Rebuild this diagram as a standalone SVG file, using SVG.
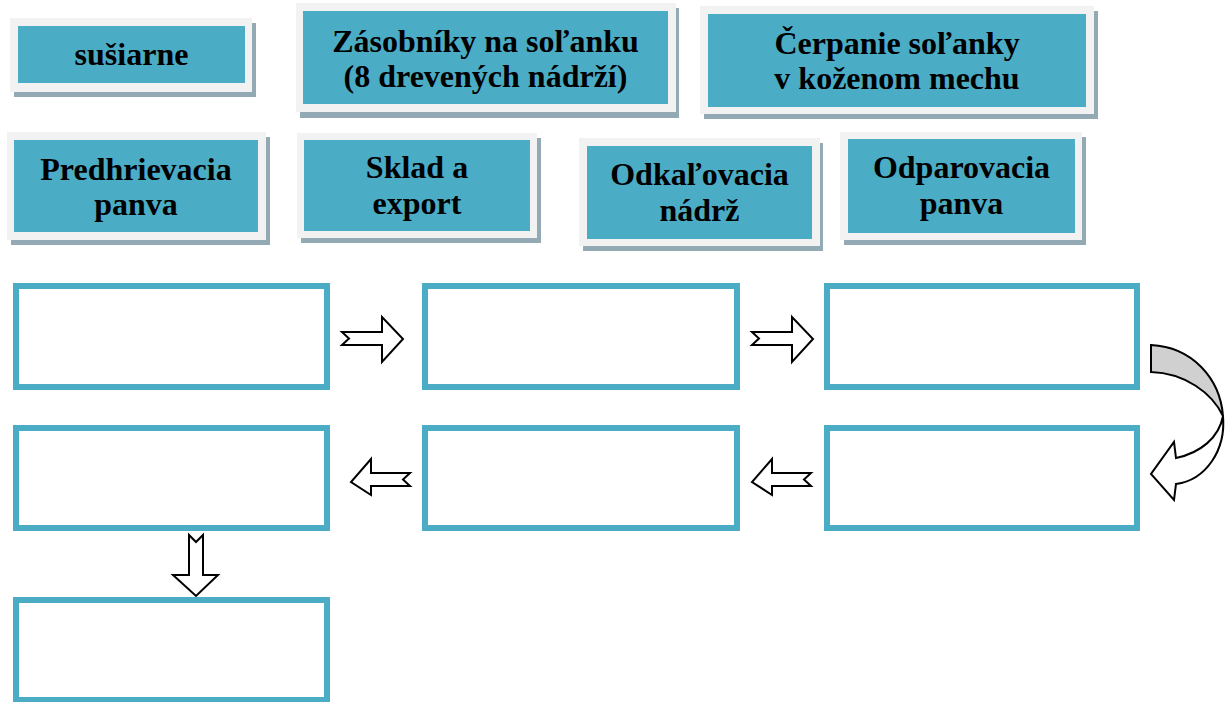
<svg xmlns="http://www.w3.org/2000/svg" width="1227" height="702" viewBox="0 0 1227 702">
<style>
.sh{fill:#93aab4}
.fr{fill:#f2f2f2}
.tl{fill:#4bacc6}
.lb{font-family:"Liberation Serif","Times New Roman",serif;font-weight:bold;font-size:32px;fill:#000;text-anchor:middle}
.bx{fill:#fff;stroke:#4bacc6;stroke-width:6}
.ar{fill:#fff;stroke:#000;stroke-width:2;stroke-linejoin:miter}
</style>
<rect width="1227" height="702" fill="#fff"/>
<g id="label-susiarne">
<rect class="sh" x="14" y="23" width="242" height="74"/>
<rect class="fr" x="10" y="18" width="242" height="74"/>
<rect class="tl" x="18" y="26" width="227" height="57"/>
<text class="lb" x="131.5" y="65">sušiarne</text>
</g>
<g id="label-zasobniky">
<rect class="sh" x="300" y="8" width="379" height="110"/>
<rect class="fr" x="296" y="3" width="380" height="109"/>
<rect class="tl" x="303" y="11" width="365" height="93"/>
<text class="lb" x="485.5" y="52">Zásobníky na soľanku</text>
<text class="lb" x="485.5" y="87">(8 drevených nádrží)</text>
</g>
<g id="label-cerpanie">
<rect class="sh" x="704" y="11" width="394" height="108"/>
<rect class="fr" x="700" y="6" width="394" height="108"/>
<rect class="tl" x="708" y="14" width="378" height="93"/>
<text class="lb" x="897" y="54">Čerpanie soľanky</text>
<text class="lb" x="897" y="89">v koženom mechu</text>
</g>
<g id="label-predhrievacia">
<rect class="sh" x="11" y="137" width="259" height="108"/>
<rect class="fr" x="7" y="132" width="259" height="108"/>
<rect class="tl" x="14" y="140" width="244" height="92"/>
<text class="lb" x="136" y="180">Predhrievacia</text>
<text class="lb" x="136" y="215">panva</text>
</g>
<g id="label-sklad">
<rect class="sh" x="301" y="138" width="240" height="105"/>
<rect class="fr" x="297" y="133" width="240" height="105"/>
<rect class="tl" x="304" y="140" width="226" height="91"/>
<text class="lb" x="417" y="178">Sklad a</text>
<text class="lb" x="417" y="214">export</text>
</g>
<g id="label-odkalovacia">
<rect class="sh" x="583" y="143" width="240" height="108"/>
<rect class="fr" x="579" y="138" width="241" height="108"/>
<rect class="tl" x="587" y="146" width="225" height="93"/>
<text class="lb" x="699.5" y="185">Odkaľovacia</text>
<text class="lb" x="699.5" y="221">nádrž</text>
</g>
<g id="label-odparovacia">
<rect class="sh" x="844" y="137" width="242" height="108"/>
<rect class="fr" x="840" y="132" width="242" height="108"/>
<rect class="tl" x="848" y="139" width="227" height="94"/>
<text class="lb" x="961.5" y="178">Odparovacia</text>
<text class="lb" x="961.5" y="214">panva</text>
</g>
<g id="box-a"><rect class="bx" x="16" y="286" width="311" height="101"/></g>
<g id="box-b"><rect class="bx" x="425" y="286" width="312" height="101"/></g>
<g id="box-c"><rect class="bx" x="827" y="286" width="310" height="101"/></g>
<g id="box-d"><rect class="bx" x="16" y="428" width="311" height="100"/></g>
<g id="box-e"><rect class="bx" x="425" y="428" width="312" height="100"/></g>
<g id="box-f"><rect class="bx" x="827" y="428" width="310" height="100"/></g>
<g id="box-g"><rect class="bx" x="16" y="600" width="311" height="100"/></g>
<g id="connectors">
<path class="ar" d="M342,332 L382,332 L382,317 L403,339 L382,362 L382,345 L342,345 L349,338.5 Z"/>
<path class="ar" d="M752,332 L792,332 L792,317 L813,339 L792,362 L792,345 L752,345 L759,338.5 Z"/>
<path class="ar" d="M410,473 L371,473 L371,459 L351,482 L371,495 L371,486 L410,486 L403,479.5 Z"/>
<path class="ar" d="M811,473 L772,473 L772,459 L752,482 L772,495 L772,486 L811,486 L804,479.5 Z"/>
<path class="ar" d="M189,535 L189,575 L173,575 L196,596 L218,575 L203,575 L203,535 L196,542 Z"/>
<path class="ar" style="fill:#d0d0d0" d="M1151,345 C1192,347 1220,378 1223,416 C1212,393 1185,373 1151,372 Z"/>
<path class="ar" d="M1223,416 C1226,450 1206,480 1176,484 L1174,500 L1151,474 L1174,442 L1176,458 C1200,453 1219,438 1223,416 Z"/>
</g>
</svg>
